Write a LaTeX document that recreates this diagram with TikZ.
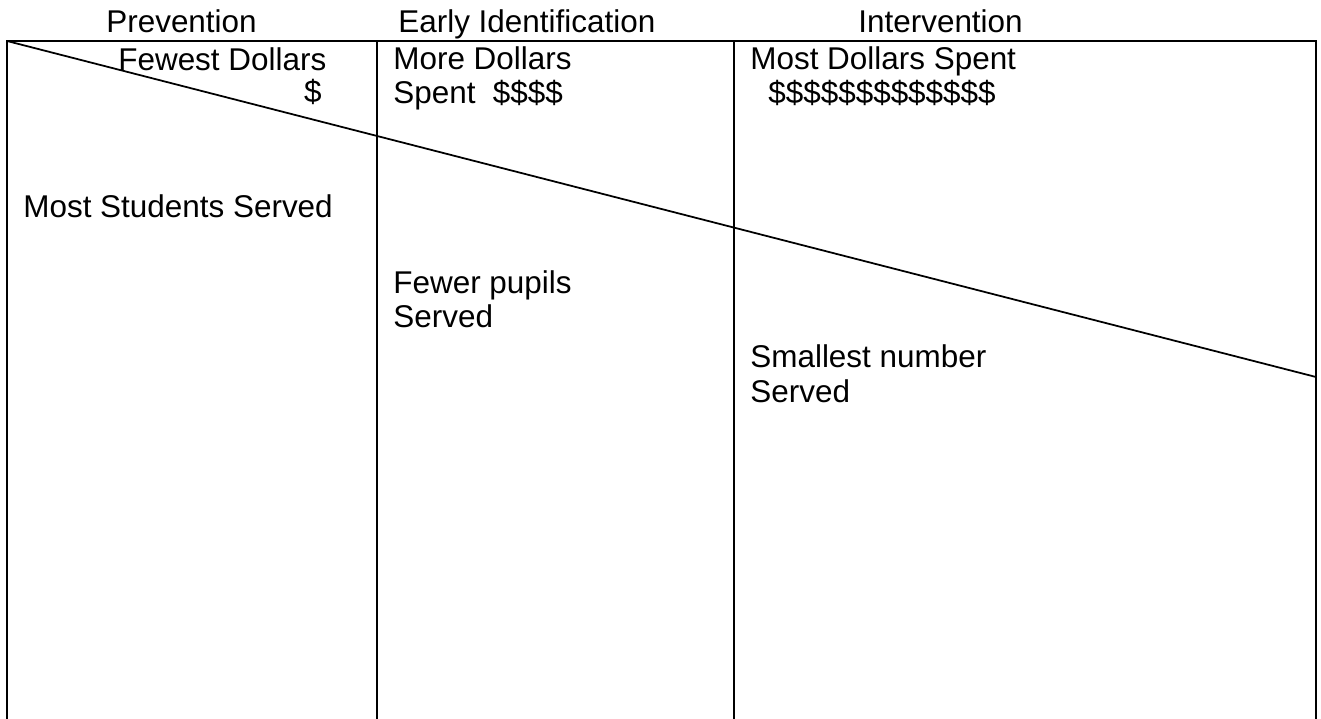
\documentclass[tikz,border=0pt]{standalone}
\usepackage{fontspec}
\setmainfont{Liberation Sans}
\usepackage{tikz}
\usetikzlibrary{positioning}

\tikzset{
    txt/.style={anchor=base west, inner sep=0pt, align=left,
        font=\fontsize{17.9}{19.9}\selectfont},
    rule/.style={line width=1.2pt},
}

\begin{document}
\begin{tikzpicture}[x=0.02cm, y=-0.02cm]
    \useasboundingbox (0,0) rectangle (1321,719);

    % table frame, open at the bottom
    \coordinate (tl) at (7,41);
    \coordinate (tr) at (1316,41);
    \draw[rule] (7,719) -- (tl) -- (tr) -- (1316,719);
    \draw[rule] (377,41) -- (377,719);
    \draw[rule] (734,41) -- (734,719);

    % slope: dollars up, pupils down
    \coordinate (sr) at (1316,377);
    \draw[line width=1pt] (tl) -- (sr);

    % column heads
    \node[txt] (prev) at (106,33) {Prevention};
    \node[txt] (early) at (398,33) {Early Identification};
    \node[txt] (inter) at (858,33) {Intervention};

    % cost (two-line nodes sit on their last baseline)
    \node[txt] (few) at (118,71) {Fewest Dollars};
    \node[txt, anchor=base east] (one) at (322,103) {\$};
    \node[txt] (more) at (393,104) {More Dollars\\Spent \ \$\$\$\$};
    \node[txt] (most) at (750,104) {Most Dollars Spent\\\hspace*{0.36cm}\$\$\$\$\$\$\$\$\$\$\$\$\$};

    % reach
    \node[txt] (studs) at (23,218) {Most Students Served};
    \node[txt] (fewer) at (393,328) {Fewer pupils\\Served};
    \node[txt] (small) at (750,402) {Smallest number\\Served};
\end{tikzpicture}
\end{document}
